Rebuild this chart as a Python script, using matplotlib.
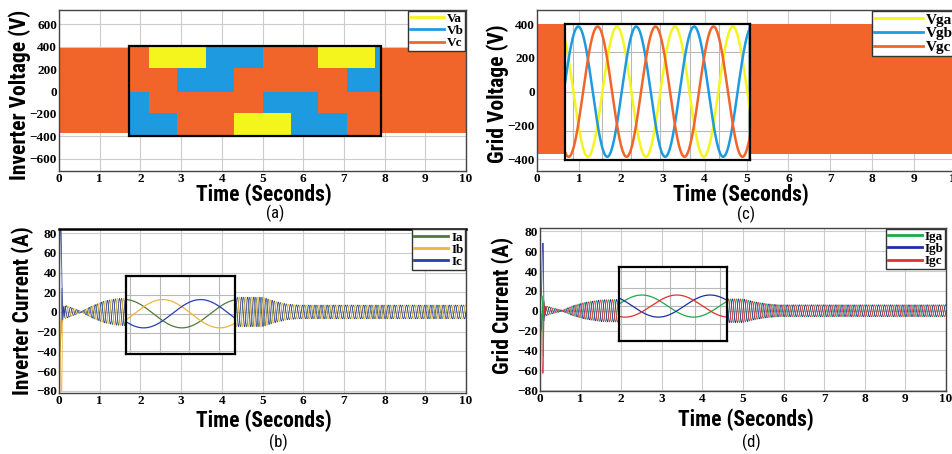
import matplotlib.pyplot as plt
import numpy as np
from matplotlib import font_manager
from matplotlib.colors import ListedColormap
from matplotlib.lines import Line2D
from matplotlib.patches import Rectangle

# Fuentes: sans estrecha para los titulos de ejes, serif negrita para los ticks
nombres = {f.name for f in font_manager.fontManager.ttflist}


def primera(lista):
    for n in lista:
        if n in nombres:
            return n
    return 'DejaVu Sans'


SANS = primera(['Liberation Sans Narrow', 'Roboto Condensed', 'Lato', 'Open Sans'])
SERIF = primera(['Liberation Serif', 'DejaVu Serif'])
TAM_LBL = 15.5 if 'Narrow' in SANS or 'Condensed' in SANS else 13.5

# ---------------- datos ----------------
tiempo_ticks = list(range(0, 11))

# (a) tension del inversor
va_band_t = [0, 0.03, 0.03, 10]
va_band_top = [725, 725, 388, 388]
va_band_bot = [-705, -705, -368, -368]
va_cols = [1.73, 2.21, 2.90, 3.60, 4.31, 5.00, 5.69, 6.37, 7.07, 7.76, 7.91]
va_rows = [-395, -195, 0, 207, 410]
# 0 = Va, 1 = Vb, 2 = Vc (fila inferior primero)
va_codes = [[1, 1, 2, 2, 0, 0, 1, 1, 2, 2],
            [1, 2, 2, 2, 2, 1, 1, 2, 2, 2],
            [2, 2, 1, 1, 2, 2, 2, 2, 1, 1],
            [2, 0, 0, 1, 1, 2, 2, 0, 0, 1]]
va_labels = ['Va', 'Vb', 'Vc']

# (c) tension de red
vg_band_t = [0, 10]
vg_band_top = [398, 398]
vg_band_bot = [-370, -370]
vg_box = [0.67, 5.08, -402, 400]
vg_amp = 385
vg_period = 1.383
vg_labels = ['Vga', 'Vgb', 'Vgc']
vg_peaks = [1.907, 0.985, 1.446]

# (b) corriente del inversor
ib_labels = ['Ia', 'Ib', 'Ic']
ib_tr_t = [0, 0.03, 0.05, 0.07, 0.09, 0.11, 0.13, 0.15]
ib_tr = [[0, -40, -20, 24, -10, 6, -6, 0],
         [0, -10, -80, -80, 10, -5, 4, -5],
         [0, 86, 86, 40, -8, 5, -4, 5]]
ib_env_t = [0.15, 0.3, 0.55, 0.8, 1.1, 1.4, 1.64, 4.32, 5.0, 5.3, 5.6, 5.9, 10]
ib_env = [7, 4.5, 0.5, 6, 11, 13.5, 14, 15, 15, 11, 8, 7, 7]
ib_box = [1.64, 4.32, -43, 36.5]
ib_amp = 15
ib_period = 2.8
ib_peaks = [4.42, 2.55, 3.48]

# (d) corriente de red
id_labels = ['Iga', 'Igb', 'Igc']
id_tr_t = [0, 0.04, 0.06, 0.08, 0.10, 0.12, 0.14, 0.15]
id_tr = [[0, -20, 15, -46, 10, -6, 4, 0],
         [0, 20, 68, 68, -10, 5, -4, -4],
         [0, -5, -63, -63, 8, -4, 3, 4]]
id_env_t = [0.15, 0.3, 0.55, 0.8, 1.1, 1.5, 1.95, 4.61, 5.0, 5.3, 5.6, 5.9, 10]
id_env = [5, 3, 0.5, 5, 8.5, 11, 11.5, 12, 12, 9, 7, 6, 6]
id_box = [1.95, 4.61, -31, 44]
id_amp = 12.5
id_period = 2.55
id_peaks = [2.51, 4.19, 3.37]

cur_period = 0.15   # periodo aparente de la banda de corriente

# ---------------- colores ----------------
col_v = ['#f5f51e', '#1e9be0', '#f2652a']
col_i = ['#4f7a3a', '#f0b43a', '#2a3fb0']
col_ig = ['#1fa84f', '#1c2fa8', '#e0322e']
GRID = '#cccccc'

W, H = 952, 454
fig = plt.figure(figsize=(W / 100, H / 100), dpi=100)


def caja(x0, x1, y0, y1):
    # convierte pixeles a fraccion de figura
    return [x0 / W, 1 - y1 / H, (x1 - x0) / W, (y1 - y0) / H]


def estilo(ax, xlim, ylim, yticks):
    ax.set_xlim(*xlim)
    ax.set_ylim(*ylim)
    ax.set_xticks(tiempo_ticks)
    ax.set_yticks(yticks)
    ax.grid(True, color=GRID, lw=0.8)
    ax.set_axisbelow(True)
    ax.tick_params(length=0, pad=1.5)
    for lab in ax.get_xticklabels() + ax.get_yticklabels():
        lab.set_fontfamily(SERIF)
        lab.set_fontweight('bold')
        lab.set_fontsize(9.5)
    for s in ax.spines.values():
        s.set_color('#444444')
        s.set_linewidth(1.0)


def leyenda(ax, cols, labels, size=9.5, hl=2.6):
    hs = [Line2D([], [], color=c, lw=2) for c in cols]
    ax.legend(hs, labels, loc='upper right', handlelength=hl, handletextpad=0.2,
              labelspacing=0.0, borderpad=0.15, borderaxespad=0.05,
              fancybox=False, edgecolor='#333333', framealpha=1,
              prop=dict(family=SERIF, weight='bold', size=size))


def inset(ax, box, xgrid, ygrid):
    x0, x1, y0, y1 = box
    ins = ax.inset_axes([x0, y0, x1 - x0, y1 - y0], transform=ax.transData)
    ins.set_xlim(x0, x1)
    ins.set_ylim(y0, y1)
    ins.set_xticks(xgrid)
    ins.set_yticks(ygrid)
    ins.tick_params(length=0, labelbottom=False, labelleft=False)
    ins.grid(True, color='#b8b8b8', lw=0.8)
    ins.set_facecolor('white')
    for s in ins.spines.values():
        s.set_color('black')
        s.set_linewidth(1.6)
    return ins


def textos(xl, yl, cap, ylab):
    fig.text(xl[0] / W, 1 - xl[1] / H, 'Time (Seconds)', ha='center', va='center',
             family=SANS, weight='bold', size=TAM_LBL)
    fig.text(cap[0] / W, 1 - cap[1] / H, cap[2], ha='center', va='center',
             family=SANS, size=12)
    fig.text(yl[0] / W, 1 - yl[1] / H, ylab, ha='center', va='center', rotation=90,
             family=SANS, weight='bold', size=TAM_LBL)


# ---------------- (a) ----------------
ax_a = fig.add_axes(caja(59, 466, 10, 171))
ax_a.fill_between(va_band_t, va_band_bot, va_band_top, color=col_v[2], lw=0)
ax_a.pcolormesh(va_cols, va_rows, np.array(va_codes), cmap=ListedColormap(col_v),
                vmin=-0.5, vmax=2.5, zorder=3)
ax_a.add_patch(Rectangle((va_cols[0], va_rows[0]), va_cols[-1] - va_cols[0],
                         va_rows[-1] - va_rows[0], fill=False, ec='black', lw=1.6, zorder=4))
estilo(ax_a, (0, 10), (-710, 728), list(range(-600, 601, 200)))
leyenda(ax_a, col_v, va_labels)
textos((264, 195), (20, 95), (275, 213, '(a)'), 'Inverter Voltage (V)')

# ---------------- (c) ----------------
ax_c = fig.add_axes(caja(537, 956, 10, 171))
ax_c.fill_between(vg_band_t, vg_band_bot, vg_band_top, color=col_v[2], lw=0)
estilo(ax_c, (0, 10), (-469, 483), [-400, -200, 0, 200, 400])
ins_c = inset(ax_c, vg_box, np.arange(0.851, 5.08, 0.698), [-235, 0, 235])
tc = np.linspace(vg_box[0], vg_box[1], 800)
for c, pk in zip(col_v, vg_peaks):
    ins_c.plot(tc, vg_amp * np.cos(2 * np.pi * (tc - pk) / vg_period), color=c, lw=1.8)
leyenda(ax_c, col_v, vg_labels, size=11, hl=3.2)
textos((741, 195), (498, 94), (746, 214, '(c)'), 'Grid Voltage (V)')


def corriente(ax, tr_t, tr, env_t, env, cols, box, amp, period, peaks, xgrid):
    t = np.linspace(0.15, 10, 12000)
    a = np.interp(t, env_t, env)
    for k, c in enumerate(cols):
        fase = 2 * np.pi * (t / cur_period - k / 3)
        ax.plot(np.concatenate([tr_t, t]), np.concatenate([tr[k], a * np.sin(fase)]),
                color=c, lw=0.55)
    ins = inset(ax, box, xgrid, [-40, -20, 0, 20, 40])
    ti = np.linspace(box[0], box[1], 400)
    for c, pk in zip(cols, peaks):
        ins.plot(ti, amp * np.cos(2 * np.pi * (ti - pk) / period), color=c, lw=0.9)


# ---------------- (b) ----------------
ax_b = fig.add_axes(caja(59, 466, 228.7, 392.7))
corriente(ax_b, ib_tr_t, ib_tr, ib_env_t, ib_env, col_i, ib_box, ib_amp, ib_period,
          ib_peaks, [1.74, 2.47, 3.2, 3.93])
estilo(ax_b, (0, 10), (-82, 84.5), list(range(-80, 81, 20)))
ax_b.spines['top'].set_color('black')
ax_b.spines['top'].set_linewidth(1.8)
leyenda(ax_b, col_i, ib_labels)
textos((263.5, 421), (23, 311), (278, 442, '(b)'), 'Inverter Current (A)')

# ---------------- (d) ----------------
ax_d = fig.add_axes(caja(540, 946, 228, 391))
corriente(ax_d, id_tr_t, id_tr, id_env_t, id_env, col_ig, id_box, id_amp, id_period,
          id_peaks, [2.0, 2.59, 3.21, 3.82, 4.43])
estilo(ax_d, (0, 10), (-81, 83.5), list(range(-80, 81, 20)))
leyenda(ax_d, col_ig, id_labels)
textos((746, 420), (503, 305), (751, 442, '(d)'), 'Grid Current (A)')

plt.savefig('out.png', dpi=100)
